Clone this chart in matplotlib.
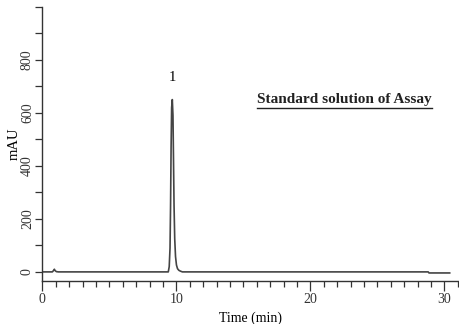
import numpy as np
import matplotlib
matplotlib.use("Agg")
import matplotlib.pyplot as plt
from matplotlib.ticker import MultipleLocator
from matplotlib.lines import Line2D

plt.rcParams["font.family"] = ["Liberation Serif", "DejaVu Serif"]

# chromatogram trace (time in min, signal in mAU)
time_min = [0.0, 0.75, 0.85, 0.9, 0.95, 1.05, 1.2, 9.40, 9.47, 9.53, 9.57, 9.61,
            9.65, 9.70, 9.75, 9.79, 9.83, 9.88, 9.94, 10.01, 10.09, 10.19,
            10.30, 10.45, 28.80, 28.85, 30.40]
signal_mau = [0, 0, 6, 10, 5, 1, 0, 0, 20, 90, 250, 470,
              620, 650, 590, 420, 250, 125, 58, 26, 12, 6,
              3, 0, 0, -4, -4]

peak_labels = ["1"]
peak_times = [9.70]
peak_heights = [650]
title_text = "Standard solution of Assay"

fig = plt.figure(figsize=(4.6, 3.24), dpi=100)
ax = fig.add_axes([0.092, 0.133, 0.906, 0.846])
ax.plot(time_min, signal_mau, color="#444444", lw=1.2)

for lab, t, h in zip(peak_labels, peak_times, peak_heights):
    ax.text(t, h + 60, lab, ha="center", va="bottom", fontsize=10.5)

ax.set_xlim(0, 31.1)
ax.set_ylim(-34, 1000)
ax.xaxis.set_major_locator(MultipleLocator(10))
ax.xaxis.set_minor_locator(MultipleLocator(1))
ax.yaxis.set_major_locator(MultipleLocator(200))
ax.yaxis.set_minor_locator(MultipleLocator(100))
ax.set_yticks([0, 200, 400, 600, 800])
ax.tick_params(axis="x", which="major", length=7, width=0.9, colors="#333333",
               labelsize=10, pad=2)
ax.tick_params(axis="x", which="minor", length=4, width=0.9, colors="#333333")
ax.tick_params(axis="y", which="both", length=5, width=0.9, colors="#333333",
               labelsize=10, pad=1)
for lab in ax.get_yticklabels():
    lab.set_rotation(90)
    lab.set_va("center")
for s in ["top", "right"]:
    ax.spines[s].set_visible(False)
for s in ["left", "bottom"]:
    ax.spines[s].set_color("#333333")
    ax.spines[s].set_linewidth(1.0)

ax.set_xlabel("Time (min)", fontsize=10, labelpad=4)
ax.set_ylabel("mAU", fontsize=10.5, labelpad=0)

txt = ax.text(0.725, 0.648, title_text, transform=ax.transAxes, ha="center",
              va="baseline", fontsize=11, fontweight="bold", color="#222222")
fig.canvas.draw()
bb = txt.get_window_extent().transformed(fig.transFigure.inverted())
uy = bb.y0 - 0.004
fig.add_artist(Line2D([bb.x0, bb.x1], [uy, uy], transform=fig.transFigure,
                      color="#222222", lw=1.0))

fig.savefig("out.png", dpi=100)
